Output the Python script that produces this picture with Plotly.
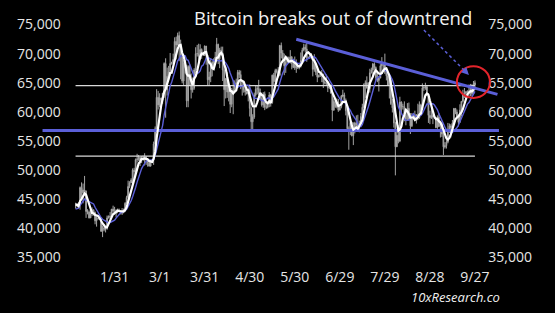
import pandas as pd
import plotly.graph_objects as go

# ---------------- data (USD thousands) ----------------
# closes 2023-12-27 .. 2024-01-04 (needed for the moving averages)
close_warmup_k = [43.4, 42.6, 42.1, 42.1, 42.3, 44.2, 45.0, 42.8, 44.2]

close_jan = [44.2, 44.0, 43.9, 47.0, 46.1, 46.6, 46.4, 42.9, 42.8, 41.8, 42.5, 43.2, 42.7, 41.3,
             41.6, 41.7, 41.6, 39.5, 39.8, 40.1, 39.9, 41.8, 42.1, 42.0, 43.3, 43.0, 42.6]
high_jan = [44.4, 44.3, 44.5, 47.2, 47.9, 47.7, 49.0, 46.5, 43.3, 43.1, 43.4, 43.6, 43.2, 42.9,
            42.2, 41.9, 41.9, 41.7, 40.5, 40.5, 40.3, 42.2, 42.2, 42.8, 43.3, 43.9, 43.7]
low_jan = [43.4, 43.6, 43.7, 43.2, 45.2, 44.3, 45.6, 41.8, 42.4, 41.7, 41.8, 42.1, 42.2, 40.7,
           40.3, 41.5, 41.5, 39.4, 38.5, 39.5, 39.3, 39.8, 41.7, 41.6, 41.8, 42.7, 42.3]

close_feb = [43.1, 43.2, 43.0, 42.6, 42.7, 43.1, 44.3, 45.3, 47.2, 47.8, 48.3, 50.0, 49.7, 51.8, 51.9,
             52.2, 51.7, 52.1, 51.8, 52.3, 51.8, 51.3, 50.7, 51.6, 51.7, 54.5, 57.1, 62.5, 61.2]
high_feb = [43.3, 43.4, 43.4, 43.1, 43.5, 43.4, 44.5, 45.6, 48.2, 48.1, 48.6, 50.3, 50.4, 52.0, 52.8,
            52.6, 52.2, 52.4, 52.5, 52.9, 52.4, 52.0, 51.5, 51.7, 51.9, 54.9, 57.5, 63.9, 63.6]
low_feb = [41.9, 42.6, 42.9, 42.4, 42.3, 42.6, 42.8, 44.3, 45.3, 46.9, 47.8, 47.7, 48.4, 49.6, 51.3,
           51.6, 50.7, 51.2, 51.6, 50.8, 50.9, 50.6, 50.6, 50.6, 51.3, 50.9, 54.5, 56.7, 60.4]

close_mar = [62.4, 62.0, 63.2, 68.3, 63.8, 66.1, 66.9, 68.3, 68.5, 69.0, 72.1, 71.5, 73.1, 71.4, 69.4, 65.3,
             68.4, 67.6, 61.9, 67.8, 65.5, 63.8, 64.1, 67.2, 70.0, 70.0, 69.5, 70.7, 69.9, 69.7, 71.3]
high_mar = [63.2, 62.4, 63.2, 68.5, 69.2, 67.6, 67.9, 70.1, 68.6, 70.0, 72.8, 72.9, 73.6, 73.8, 72.4, 70.0,
            68.9, 68.9, 68.1, 68.0, 68.2, 66.6, 65.9, 67.5, 71.1, 71.5, 71.7, 71.6, 70.9, 70.3, 71.4]
low_mar = [60.8, 61.6, 61.4, 62.4, 59.0, 62.8, 65.6, 66.2, 68.1, 68.2, 68.7, 69.0, 71.4, 68.7, 65.6, 64.9,
           64.6, 66.6, 60.8, 60.8, 64.6, 62.3, 63.3, 63.8, 66.6, 69.5, 68.4, 68.9, 69.1, 69.6, 69.6]

close_apr = [69.7, 65.5, 66.0, 68.5, 67.8, 68.9, 69.4, 71.6, 69.1, 70.6, 70.1, 67.2, 63.8, 65.7, 63.4,
             63.8, 61.3, 63.5, 63.8, 65.0, 64.9, 66.8, 66.4, 64.3, 64.5, 63.8, 63.4, 63.1, 63.8, 60.6]
high_apr = [71.3, 69.7, 66.9, 69.2, 68.7, 69.2, 70.3, 72.7, 71.7, 71.0, 71.2, 71.2, 67.9, 65.8, 66.8,
            64.4, 64.5, 64.1, 65.4, 65.4, 65.7, 67.2, 67.2, 67.1, 65.2, 64.8, 63.9, 64.3, 64.2, 64.7]
low_apr = [68.1, 64.5, 64.5, 65.1, 66.1, 67.5, 68.8, 69.1, 68.2, 67.5, 69.6, 65.3, 61.0, 62.3, 62.4,
           61.8, 59.8, 60.8, 59.6, 63.2, 64.3, 64.5, 65.8, 63.9, 62.8, 63.3, 62.8, 63.0, 61.8, 59.2]

close_may = [58.3, 59.1, 62.9, 63.9, 64.0, 63.2, 62.3, 61.2, 63.1, 60.8, 60.8, 61.5, 62.9, 61.6, 66.3, 65.2,
             67.1, 66.9, 66.3, 71.4, 70.1, 69.1, 67.9, 68.5, 69.3, 68.5, 69.4, 68.3, 67.6, 68.4, 67.5]
high_may = [60.8, 59.6, 63.3, 64.5, 64.5, 65.5, 64.0, 62.9, 63.4, 63.5, 61.5, 61.8, 63.4, 63.1, 66.4, 66.7,
            67.4, 67.4, 67.7, 71.5, 71.9, 70.6, 70.0, 69.2, 69.5, 69.5, 70.6, 69.6, 68.8, 69.5, 69.0]
low_may = [56.6, 56.9, 58.8, 62.6, 63.0, 62.9, 62.3, 60.9, 60.7, 60.3, 60.5, 60.6, 60.8, 60.9, 61.4, 64.6,
           65.1, 66.6, 65.9, 66.1, 69.2, 68.9, 66.3, 66.7, 68.5, 68.4, 68.3, 67.3, 67.6, 67.2, 66.7]

close_jun = [67.7, 67.8, 68.8, 70.6, 71.1, 70.8, 69.3, 69.3, 69.6, 69.5, 67.3, 68.2, 66.8, 66.0, 66.2,
             66.6, 66.5, 65.1, 65.0, 64.8, 64.1, 64.3, 63.2, 60.3, 61.8, 60.9, 61.7, 60.3, 60.9, 62.7]
high_jun = [68.0, 68.4, 70.2, 71.0, 71.7, 71.6, 71.9, 69.5, 69.8, 70.1, 69.6, 69.9, 68.4, 67.3, 66.4,
            66.9, 67.2, 66.5, 65.7, 66.4, 65.0, 64.5, 64.5, 63.4, 62.3, 62.4, 62.3, 62.2, 61.1, 62.9]
low_jun = [67.4, 67.3, 67.6, 68.6, 70.4, 70.2, 68.6, 69.2, 69.1, 69.2, 66.1, 66.9, 66.3, 65.1, 65.9,
           66.0, 65.1, 64.1, 64.7, 64.5, 63.4, 63.9, 63.2, 58.4, 60.2, 60.7, 60.6, 60.0, 60.3, 60.6]

close_jul = [62.9, 62.0, 60.2, 57.1, 56.7, 58.2, 55.9, 56.7, 58.1, 57.7, 57.3, 57.9, 59.2, 60.8, 64.7, 65.0,
             64.1, 64.0, 66.7, 67.2, 68.2, 67.6, 65.9, 65.4, 65.8, 67.9, 68.3, 68.2, 66.8, 66.2, 64.6]
high_jul = [63.8, 63.3, 62.3, 60.5, 57.5, 58.5, 58.3, 58.2, 58.3, 59.4, 59.5, 58.5, 59.8, 61.4, 64.9, 65.4,
            66.1, 65.1, 67.4, 67.6, 68.4, 68.5, 67.8, 67.1, 66.1, 68.2, 69.4, 68.3, 70.0, 66.9, 66.8]
low_jul = [62.5, 61.8, 59.4, 56.8, 53.5, 56.0, 55.8, 54.3, 56.3, 57.2, 57.1, 56.5, 57.8, 59.3, 60.7, 62.4,
           64.0, 63.2, 63.3, 66.6, 65.8, 66.6, 65.5, 65.1, 63.5, 65.8, 66.6, 67.1, 66.5, 65.4, 64.5]

close_aug = [65.4, 61.4, 60.7, 58.1, 54.0, 56.0, 55.0, 61.7, 60.9, 60.9, 58.7, 59.4, 60.6, 58.7, 57.6, 58.9,
             59.5, 58.5, 59.5, 59.0, 61.2, 60.4, 64.1, 64.2, 64.3, 62.8, 59.4, 59.0, 59.4, 59.1, 59.0]
high_aug = [65.6, 65.6, 62.2, 61.1, 58.3, 57.0, 57.7, 62.6, 61.8, 61.4, 61.8, 60.6, 61.5, 61.6, 59.8, 59.8,
            59.6, 60.2, 59.6, 61.4, 61.8, 61.4, 64.9, 64.5, 65.0, 64.5, 63.2, 60.2, 61.2, 59.9, 59.5]
low_aug = [62.3, 61.2, 59.9, 57.3, 49.1, 54.0, 54.6, 54.8, 59.8, 60.4, 58.4, 57.7, 58.5, 58.5, 56.2, 57.4,
           58.8, 58.4, 58.0, 58.6, 58.8, 59.8, 60.4, 63.6, 63.8, 62.8, 58.1, 57.9, 58.8, 57.9, 58.8]

close_sep = [57.3, 59.1, 57.5, 58.0, 56.2, 54.0, 54.2, 54.8, 57.0, 57.6, 57.3, 58.1, 60.6, 60.0,
             59.2, 58.2, 60.3, 61.8, 63.0, 63.2, 63.4, 63.6, 63.3, 64.3, 63.1, 64.6, 65.0]
high_sep = [59.0, 59.4, 59.8, 58.5, 58.3, 56.9, 54.8, 55.3, 58.1, 58.0, 57.9, 58.6, 60.6, 60.6,
            60.4, 59.2, 61.3, 61.8, 63.8, 64.1, 63.6, 63.6, 64.7, 64.8, 64.8, 65.3, 65.4]
low_sep = [57.2, 57.1, 57.4, 55.6, 55.7, 52.6, 53.7, 53.7, 54.6, 56.4, 55.6, 57.0, 57.7, 59.6,
           58.7, 57.5, 58.2, 59.2, 61.6, 62.4, 62.8, 62.4, 62.7, 62.7, 62.7, 62.9, 64.0]

first_day = "2024-01-05"
last_day = "2024-09-27"

# support / resistance levels (USD) and their date spans
level_values = [64500, 56800, 52400]
level_starts = ["2024-01-05", "2023-12-14", "2024-01-05"]
level_ends = ["2024-09-27", "2024-10-13", "2024-09-27"]

# downtrend line
trend_dates = ["2024-05-31", "2024-10-12"]
trend_values = [72460, 63000]

tick_dates = ["2024-01-31", "2024-03-01", "2024-03-31", "2024-04-30", "2024-05-30",
              "2024-06-29", "2024-07-29", "2024-08-28", "2024-09-27"]
tick_labels = ["1/31", "3/1", "3/31", "4/30", "5/30", "6/29", "7/29", "8/28", "9/27"]
y_ticks = [35000, 40000, 45000, 50000, 55000, 60000, 65000, 70000, 75000]

title_text = "Bitcoin breaks out of downtrend"
source_text = "10xResearch.co"

# ---------------- assemble ----------------
def join(*parts):
    out = []
    for p in parts:
        out += p
    return out

close_k = join(close_jan, close_feb, close_mar, close_apr, close_may, close_jun, close_jul, close_aug, close_sep)
high_k = join(high_jan, high_feb, high_mar, high_apr, high_may, high_jun, high_jul, high_aug, high_sep)
low_k = join(low_jan, low_feb, low_mar, low_apr, low_may, low_jun, low_jul, low_aug, low_sep)

dates = pd.date_range(first_day, last_day, freq="D")
assert len(dates) == len(close_k) == len(high_k) == len(low_k), (len(dates), len(close_k), len(high_k), len(low_k))

full = pd.Series([v * 1000 for v in close_warmup_k + close_k])
nw = len(close_warmup_k)
close = full.iloc[nw:].to_numpy()
opens = full.iloc[nw - 1:-1].to_numpy()
high = [v * 1000 for v in high_k]
low = [v * 1000 for v in low_k]
ma_fast = full.rolling(5).mean().iloc[nw:].to_numpy()
ma_slow = full.rolling(10).mean().iloc[nw:].to_numpy()

BLUE = "#5b5fd8"
TXT = "#e6e6e6"
FONT = "Open Sans"

fig = go.Figure()

# horizontal levels
level_colors = ["#d9d9d9", BLUE, "#d9d9d9"]
level_widths = [1.2, 3, 1.2]
for v, s, e, c, w in zip(level_values, level_starts, level_ends, level_colors, level_widths):
    fig.add_trace(go.Scatter(x=[s, e], y=[v, v], mode="lines", line=dict(color=c, width=w),
                             hoverinfo="skip", showlegend=False, cliponaxis=False))

fig.add_trace(go.Candlestick(
    x=dates, open=opens, high=high, low=low, close=close,
    increasing=dict(line=dict(color="#a4a4a4", width=1), fillcolor="#a4a4a4"),
    decreasing=dict(line=dict(color="#a4a4a4", width=1), fillcolor="#a4a4a4"),
    whiskerwidth=0, showlegend=False, hoverinfo="skip"))

fig.add_trace(go.Scatter(x=dates, y=ma_slow, mode="lines", line=dict(color=BLUE, width=1.4),
                         showlegend=False, hoverinfo="skip"))
fig.add_trace(go.Scatter(x=dates, y=ma_fast, mode="lines", line=dict(color="#ffffff", width=2.2),
                         showlegend=False, hoverinfo="skip"))

fig.add_trace(go.Scatter(x=trend_dates, y=trend_values, mode="lines", line=dict(color=BLUE, width=3),
                         showlegend=False, hoverinfo="skip"))

# invisible trace for the right-hand axis
fig.add_trace(go.Scatter(x=[dates[0]], y=[y_ticks[0]], yaxis="y2", mode="markers",
                         marker=dict(opacity=0), showlegend=False, hoverinfo="skip"))

yr = [33369, 78348]
fig.update_layout(
    width=555, height=313,
    margin=dict(l=14, r=20, t=5, b=46),
    paper_bgcolor="#000000", plot_bgcolor="#000000",
    font=dict(family=FONT, color=TXT, size=14),
    xaxis=dict(type="date", range=["2023-11-25", "2024-11-06"], tickvals=tick_dates, ticktext=tick_labels,
               showgrid=False, zeroline=False, showline=False, ticks="", rangeslider=dict(visible=False),
               tickfont=dict(size=14, color=TXT)),
    yaxis=dict(range=yr, tickvals=y_ticks, ticktext=[f"{v:,}" for v in y_ticks], showgrid=False,
               zeroline=False, showline=False, ticks="", ticklabelposition="inside",
               tickfont=dict(size=14, color=TXT)),
    yaxis2=dict(range=yr, overlaying="y", side="right", tickvals=y_ticks,
                ticktext=[f"{v:,}" for v in y_ticks], showgrid=False, zeroline=False, showline=False,
                ticks="", ticklabelposition="inside", tickfont=dict(size=14, color=TXT)),
    showlegend=False,
)

# red circle around breakout
fig.add_shape(type="circle", xref="x", yref="y", x0="2024-09-15", x1="2024-10-07",
              y0=62400, y1=67850, line=dict(color="#e3242b", width=2))

# dashed arrow
fig.add_shape(type="line", xref="x", yref="y", x0="2024-08-24", y0=74050, x1="2024-09-20", y1=67100,
              line=dict(color=BLUE, width=1.5, dash="dot"))
fig.add_annotation(x="2024-09-23", y=66330, xref="x", yref="y", ax=-7, ay=-7, text="",
                   showarrow=True, arrowhead=2, arrowsize=1, arrowwidth=1.5, arrowcolor=BLUE)

fig.add_annotation(text=title_text, xref="paper", yref="paper", x=0.6123, y=0.954,
                   showarrow=False, font=dict(size=18.5, color="#f2f2f2", family=FONT),
                   xanchor="center", yanchor="middle")
fig.add_annotation(text=f"<i>{source_text}</i>", xref="paper", yref="paper", x=0.8474, y=-0.1145,
                   showarrow=False, font=dict(size=13, color="#f0f0f0", family=FONT),
                   xanchor="center", yanchor="middle")

fig.write_html("out.html")
